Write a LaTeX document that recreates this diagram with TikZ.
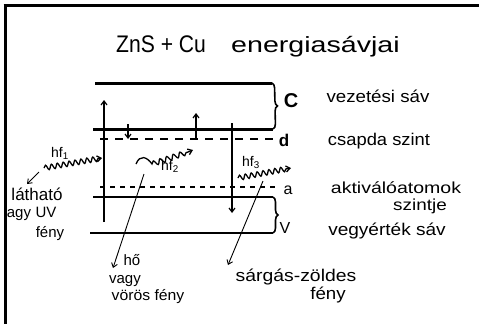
\documentclass[tikz,border=0pt]{standalone}
\usepackage{graphicx}
\usepackage{fontspec}
\setmainfont{Liberation Sans}
\usetikzlibrary{arrows.meta,decorations.pathmorphing,decorations.pathreplacing}
\newcommand\hsc[2]{\scalebox{#1}[1]{#2}}
\begin{document}
\begin{tikzpicture}[x=1pt,y=-1pt,
  lbl/.style={anchor=base, inner sep=0pt, font=\fontsize{17}{17}\selectfont},
  sml/.style={anchor=base, inner sep=0pt, font=\fontsize{15}{15}\selectfont},
  hf/.style={anchor=base, inner sep=0pt, font=\fontsize{14}{14}\selectfont},
  letter/.style={anchor=base, inner sep=0pt, font=\fontsize{20}{20}\selectfont\bfseries},
  band/.style={line width=3pt},
  vband/.style={line width=2.2pt},
  bracebar/.style={line width=1.6pt, decorate, decoration={brace, amplitude=5pt}},
  arr/.style={-{Straight Barb[length=4pt,width=6pt]}, line width=1.2pt},
  thinarr/.style={-{Straight Barb[length=4pt,width=6pt]}, line width=0.9pt},
  wave/.style={-{Straight Barb[length=4pt,width=6pt]}, line width=1.3pt, decorate,
    decoration={snake, amplitude=2.5pt, segment length=6pt, post length=4pt}}
]
\useasboundingbox (0,0) rectangle (479,324);
% frame
\draw[line width=3pt] (3.5,5) -- (479,5);
\draw[line width=3pt] (5,5) -- (5,324);
% title
\node[anchor=base west, inner sep=0pt, font=\fontsize{24}{24}\selectfont] (t1) at (116,52) {\hsc{0.88}{ZnS + Cu}};
\node[anchor=base west, inner sep=0pt, font=\fontsize{22}{22}\selectfont] (t2) at (231,52) {\hsc{1.3}{energiasávjai}};
% conduction band C
\coordinate (ctl) at (95,83); \coordinate (ctr) at (272,83);
\coordinate (cbl) at (93,129); \coordinate (cbr) at (273,129);
\draw[band] (ctl) -- (ctr);
\draw[band] (cbl) -- (cbr);
\draw[bracebar] (ctr) -- (cbr);
% trap level d
\coordinate (dl) at (100,139); \coordinate (dr) at (276,139);
\draw[line width=2pt, dash pattern=on 8pt off 7pt] (dl) -- (dr);
% activator level a
\coordinate (al) at (100,187); \coordinate (ar) at (276,187);
\draw[line width=1.1pt, dash pattern=on 5pt off 5pt] (al) -- (ar);
% valence band V
\coordinate (vtl) at (93,197); \coordinate (vtr) at (273,197);
\coordinate (vbl) at (90,233); \coordinate (vbr) at (273,233);
\draw[vband] (vtl) -- (vtr);
\draw[vband] (vbl) -- (vbr);
\draw[bracebar] (vtr) -- (vbr);
% band letters
\node[letter] (C) at (291,107) {C};
\node[letter, font=\fontsize{17}{17}\selectfont\bfseries] (d) at (284,146) {d};
\node[letter, font=\fontsize{16}{16}\selectfont] (a) at (288,194) {a};
\node[letter, font=\fontsize{16}{16}\selectfont] (V) at (285,233) {V};
% right labels
\node[lbl] (vez) at (378,102) {\hsc{1.1}{vezetési sáv}};
\node[lbl] (csa) at (379,145) {\hsc{1.08}{csapda szint}};
\node[lbl, font=\fontsize{16}{16}\selectfont] (akt) at (396,193) {\hsc{1.22}{aktiválóatomok}};
\node[lbl, font=\fontsize{16}{16}\selectfont] (szi) at (420,210) {\hsc{1.18}{szintje}};
\node[lbl] (veg) at (387,235) {\hsc{1.12}{vegyérték sáv}};
% electron transitions
\coordinate (u1a) at (104,222); \coordinate (u1b) at (104,100);
\draw[arr] (u1a) -- (u1b);
\coordinate (s1a) at (128,124); \coordinate (s1b) at (128,139);
\draw[arr] (s1a) -- (s1b);
\coordinate (s2a) at (196,139); \coordinate (s2b) at (196,113);
\draw[arr] (s2a) -- (s2b);
\coordinate (d1a) at (232,123); \coordinate (d1b) at (232,213);
\draw[arr] (d1a) -- (d1b);
% hf1
\coordinate (w1a) at (44,168); \coordinate (w1b) at (102,158);
\draw[wave] (w1a) -- (w1b);
\node[hf] (hf1) at (60,157) {hf\textsubscript{1}};
\coordinate (l1a) at (39,172);
\node[lbl] (lat) at (37,200) {látható};
\draw[thinarr] (l1a) -- (27,184);
\node[sml] (agy) at (19,217) {agy};
\node[sml] (uv) at (46,217) {UV};
\node[sml] (feny1) at (50,237) {fény};
% hf2
\coordinate (w2a) at (136,164); \coordinate (w2m) at (152,164); \coordinate (w2b) at (193,150);
\draw[line width=1.3pt, -{Straight Barb[length=4pt,width=6pt]}]
  (w2a) .. controls (140,154) and (147,157) .. (w2m)
  decorate[decoration={snake, amplitude=2.5pt, segment length=7pt}] { -- (188,152)} -- (w2b);
\node[hf] (hf2) at (170,170) {hf\textsubscript{2}};
\coordinate (l2a) at (144,174);
\draw[thinarr] (l2a) -- (113,268);
\node[sml] (ho) at (132,265) {hő};
\node[sml] (vagy) at (125,283) {vagy};
\node[sml] (vor) at (148,300) {\hsc{1.05}{vörös fény}};
% hf3
\coordinate (w3a) at (238,178); \coordinate (w3b) at (291,168);
\draw[wave] (w3a) -- (w3b);
\node[hf] (hf3) at (251,166) {hf\textsubscript{3}};
\coordinate (l3a) at (263,181);
\draw[thinarr] (l3a) -- (228,265);
\node[lbl] (sar) at (296,281) {\hsc{1.14}{sárgás-zöldes}};
\node[lbl] (feny2) at (328,299) {\hsc{1.1}{fény}};
\end{tikzpicture}
\end{document}
